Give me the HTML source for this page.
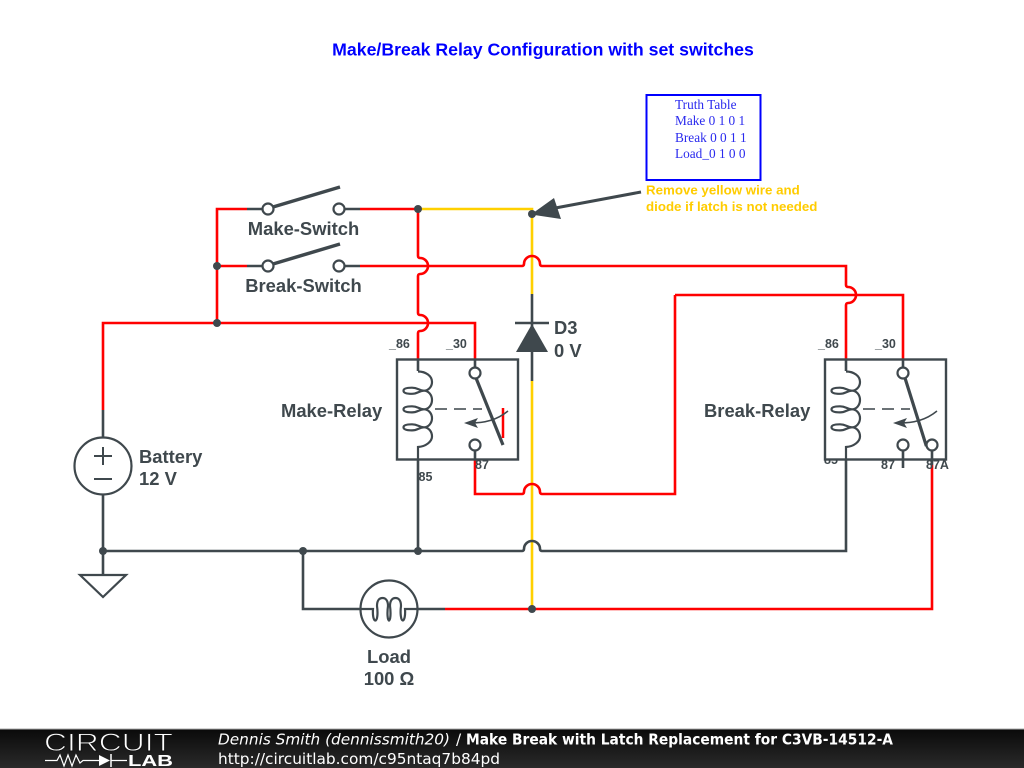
<!DOCTYPE html>
<html>
<head>
<meta charset="utf-8">
<style>
html,body{margin:0;padding:0;background:#fff;}
body{width:1024px;height:768px;overflow:hidden;position:relative;}
svg{position:absolute;left:0;top:0;display:block;}
.l{font-family:"Liberation Sans",sans-serif;font-weight:bold;font-size:18.4px;fill:#3f484d;}
.s{font-family:"Liberation Sans",sans-serif;font-weight:bold;font-size:12.5px;fill:#3f484d;}
.t{font-family:"Liberation Serif",serif;font-size:13.3px;fill:#2a2aee;}
.y{font-family:"Liberation Sans",sans-serif;font-weight:bold;font-size:13.3px;fill:#ffcc00;}
.r{fill:none;stroke:#ff0000;stroke-width:2.600;}
.g{fill:none;stroke:#3f484d;stroke-width:2.600;}
.w{fill:none;stroke:#ffd000;stroke-width:2.600;}
.c{fill:#fff;stroke:#3f484d;stroke-width:2.200;}
.n{fill:#3f484d;}
.f{font-family:"DejaVu Sans",sans-serif;font-size:15.3px;fill:#fff;}
</style>
</head>
<body>
<svg width="1024" height="768" viewBox="0 0 1024 768" xmlns="http://www.w3.org/2000/svg">
<defs>
<linearGradient id="fb" x1="0" y1="0" x2="0" y2="1">
<stop offset="0" stop-color="#0a0a0a"/><stop offset="1" stop-color="#2a2a2a"/>
</linearGradient>
<path id="coil" d="M418 371.500C426 371.500 432 376 432 382C432 387 428 390.700 424 390.700C419 390.700 418 387.700 412 387.700C407 387.700 403.500 388.500 403.500 390.700C403.500 393 407 393.800 412 393.800C418 393.800 419 390.700 424 390.700C428.500 390.700 432 395 432 400C432 405 428.500 409.300 424 409.300C419 409.300 418 406.300 412 406.300C407 406.300 403.500 407.100 403.500 409.300C403.500 411.600 407 412.400 412 412.400C418 412.400 419 409.300 424 409.300C428.500 409.300 432 413.500 432 418.300C432 423 428.500 427.300 424 427.300C419 427.300 418 424.300 412 424.300C407 424.300 403.500 425.100 403.500 427.300C403.500 429.600 407 430.400 412 430.400C418 430.400 419 427.300 424 427.300C428.500 427.300 432 431.500 432 436.500C432 441.500 426 446.500 418 447V459" fill="none" stroke="#3f484d" stroke-width="2.200"/>
</defs>
<rect width="1024" height="768" fill="#fff"/>

<text x="543" y="55.500" text-anchor="middle" font-family="'Liberation Sans',sans-serif" font-weight="bold" font-size="17.700" fill="#0000ff">Make/Break Relay Configuration with set switches</text>

<!-- truth table -->
<rect x="646.500" y="95" width="114" height="85" fill="#fff" stroke="#0000ff" stroke-width="2"/>
<text class="t" x="675" y="109">Truth Table</text>
<text class="t" x="675" y="125">Make 0 1 0 1</text>
<text class="t" x="675" y="142">Break 0 0 1 1</text>
<text class="t" x="675" y="158">Load_0 1 0 0</text>
<text class="y" x="646" y="194.500">Remove yellow wire and</text>
<text class="y" x="646" y="211">diode if latch is not needed</text>

<!-- yellow wires -->
<path class="w" d="M418 209H532V294"/>
<path class="w" d="M532 381V609"/>

<!-- red wires -->
<path class="r" d="M247 209H217V323"/>
<path class="r" d="M217 266H247"/>
<path class="r" d="M360 209H418V256a2 2 0 0 0 2 2a8 8 0 0 1 0 16a2 2 0 0 0 -2 2V313a2 2 0 0 0 2 2a8 8 0 0 1 0 16a2 2 0 0 0 -2 2V359"/>
<path class="r" d="M360 266H522a2 2 0 0 0 2 -2a8 8 0 0 1 16 0a2 2 0 0 0 2 2H846V285a2 2 0 0 0 2 2a8 8 0 0 1 0 16a2 2 0 0 0 -2 2V359"/>
<path class="r" d="M103 410V323H475V359"/>
<path class="r" d="M675 295H903V359"/>
<path class="r" d="M475 460V494H522a2 2 0 0 0 2 -2a8 8 0 0 1 16 0a2 2 0 0 0 2 2H675V295"/>
<path class="r" d="M445 609H932V465"/>

<!-- gray wires -->
<path class="g" d="M247 209H262M345 209H360M247 266H262M345 266H360"/>
<path class="g" d="M103 410V437M103 495V575"/>
<path class="g" d="M103 551H522a2 2 0 0 0 2 -2a8 8 0 0 1 16 0a2 2 0 0 0 2 2H846V459"/>
<path class="g" d="M418 459V551M303 551V609H360M418 609H445"/>
<path class="g" d="M532 294V381"/>
<path class="g" d="M903 452V468M932 452V465"/>

<!-- switches -->
<path d="M273 207L340 187M273 264L340 244" fill="none" stroke="#3f484d" stroke-width="3.500"/>
<circle class="c" cx="268" cy="209" r="5.500"/><circle class="c" cx="339" cy="209" r="5.500"/>
<circle class="c" cx="268" cy="266" r="5.500"/><circle class="c" cx="339" cy="266" r="5.500"/>
<text class="l" x="303.500" y="235" text-anchor="middle">Make-Switch</text>
<text class="l" x="303.500" y="292" text-anchor="middle">Break-Switch</text>

<!-- diode -->
<path d="M515 323H549" stroke="#3f484d" stroke-width="2.600" fill="none"/>
<path class="n" d="M532 324L548 352H516Z"/>
<text class="l" x="554" y="334">D3</text>
<text class="l" x="554" y="357">0 V</text>

<!-- arrow annotation -->
<path d="M641 192L550 209" stroke="#3f484d" stroke-width="3" fill="none"/>
<path class="n" d="M531 214.500L554 198L561 219Z"/>

<!-- hidden-label text below relays -->
<text class="s" x="824" y="464">85</text>

<!-- relay 1 -->
<rect x="397" y="359.500" width="121" height="100" fill="#fff" stroke="#3f484d" stroke-width="2.400"/>
<path class="g" d="M418 359V371"/>
<use href="#coil"/>
<path d="M435 409H482" stroke="#6b7276" stroke-width="2" stroke-dasharray="12 7" fill="none"/>
<path d="M476 378L503 445" stroke="#3f484d" stroke-width="3.200" fill="none"/>
<path d="M503 408V438" stroke="#ff0000" stroke-width="2.500" fill="none"/>
<path d="M508 411C497 420 485 423 470 423" stroke="#3f484d" stroke-width="1.500" fill="none"/>
<path class="n" d="M464 423L478 418L475 423L478 428Z"/>
<path class="g" d="M475 359V368M475 450V460"/>
<circle class="c" cx="475" cy="373" r="5.500"/><circle class="c" cx="475" cy="445" r="5.500"/>
<text class="s" x="389" y="348">_86</text>
<text class="s" x="446" y="348">_30</text>
<text class="s" x="475" y="469">87</text>
<text class="s" x="418.500" y="481">85</text>
<text class="l" x="281" y="417">Make-Relay</text>

<!-- relay 2 -->
<rect x="825" y="359.500" width="121" height="100" fill="#fff" stroke="#3f484d" stroke-width="2.400"/>
<path class="g" d="M846 359V371"/>
<use href="#coil" x="428"/>
<path d="M863 409H910" stroke="#6b7276" stroke-width="2" stroke-dasharray="12 7" fill="none"/>
<path d="M905 378L926 445L932 446" stroke="#3f484d" stroke-width="3.200" fill="none"/>
<path d="M937 411C926 420 914 423 899 423" stroke="#3f484d" stroke-width="1.500" fill="none"/>
<path class="n" d="M893 423L907 418L904 423L907 428Z"/>
<path class="g" d="M903 359V368M903 450V459M932 450V459"/>
<circle class="c" cx="903" cy="373" r="5.500"/><circle class="c" cx="903" cy="445" r="5.500"/><circle class="c" cx="932" cy="445" r="5.500"/>
<text class="s" x="818" y="348">_86</text>
<text class="s" x="875" y="348">_30</text>
<text class="s" x="881" y="469">87</text>
<text class="s" x="926" y="469">87A</text>
<text class="l" x="704" y="417">Break-Relay</text>

<!-- battery -->
<circle cx="103" cy="466" r="28.500" fill="#fff" stroke="#3f484d" stroke-width="2.200"/>
<path d="M103 447V465M94 456H112M94 479H112" stroke="#3f484d" stroke-width="2" fill="none"/>
<text class="l" x="139" y="463">Battery</text>
<text class="l" x="139" y="485">12 V</text>

<!-- ground -->
<path d="M80 575H126L103 597Z" fill="#fff" stroke="#3f484d" stroke-width="2.200"/>

<!-- load -->
<circle cx="389" cy="609" r="28.500" fill="#fff" stroke="#3f484d" stroke-width="2.200"/>
<path d="M360 609H373C372.500 615 373.500 620.500 375.300 620.500C377.500 620.500 378 613 377 606C377 601 379 598 382.500 598C386 598 388 601 388 606C387 613 387.500 620.500 389 620.500C390.500 620.500 391 613 390 606C390 601 392 598 395.500 598C399 598 401 601 401 606C400 613 401 620.500 402.700 620.500C404.500 620.500 405.500 615 405 609H418" fill="none" stroke="#3f484d" stroke-width="2.200"/>
<text class="l" x="389" y="663" text-anchor="middle">Load</text>
<text class="l" x="389" y="685" text-anchor="middle">100 Ω</text>

<!-- junctions -->
<g class="n">
<circle cx="418" cy="209" r="4"/>
<circle cx="532" cy="214" r="4"/>
<circle cx="217" cy="266" r="4"/>
<circle cx="217" cy="323" r="4"/>
<circle cx="103" cy="551" r="4"/>
<circle cx="303" cy="551" r="4"/>
<circle cx="418" cy="551" r="4"/>
<circle cx="532" cy="609" r="4"/>
</g>

<!-- footer -->
<rect x="0" y="729" width="1024" height="39" fill="url(#fb)"/>
<rect x="0" y="728.500" width="1024" height="1" fill="#aaa"/>
<text x="44" y="751" font-family="'Liberation Sans',sans-serif" font-size="25" fill="#fff" stroke="#141414" stroke-width="0.900" paint-order="fill stroke" textLength="129" lengthAdjust="spacingAndGlyphs">CIRCUIT</text>
<path d="M45 760.500H57L60 755L64 766L68 755L72 766L76 755L80 763L83 760.500H99M111 760.500H127" fill="none" stroke="#fff" stroke-width="1.200"/>
<path d="M99 755L110 760.500L99 766Z" fill="#fff"/>
<path d="M111 754V767" stroke="#fff" stroke-width="1.500"/>
<text x="128" y="766" font-family="'Liberation Sans',sans-serif" font-weight="bold" font-size="16" fill="#fff" textLength="45" lengthAdjust="spacingAndGlyphs">LAB</text>
<text class="f" x="218" y="744.500" font-style="italic" textLength="232" lengthAdjust="spacingAndGlyphs">Dennis Smith (dennissmith20)</text>
<text class="f" x="456" y="744.500">/</text>
<text class="f" x="466" y="744.500" font-weight="bold" textLength="427" lengthAdjust="spacingAndGlyphs">Make Break with Latch Replacement for C3VB-14512-A</text>
<text class="f" x="218" y="764" textLength="282" lengthAdjust="spacingAndGlyphs">http://circuitlab.com/c95ntaq7b84pd</text>
</svg>
</body>
</html>
